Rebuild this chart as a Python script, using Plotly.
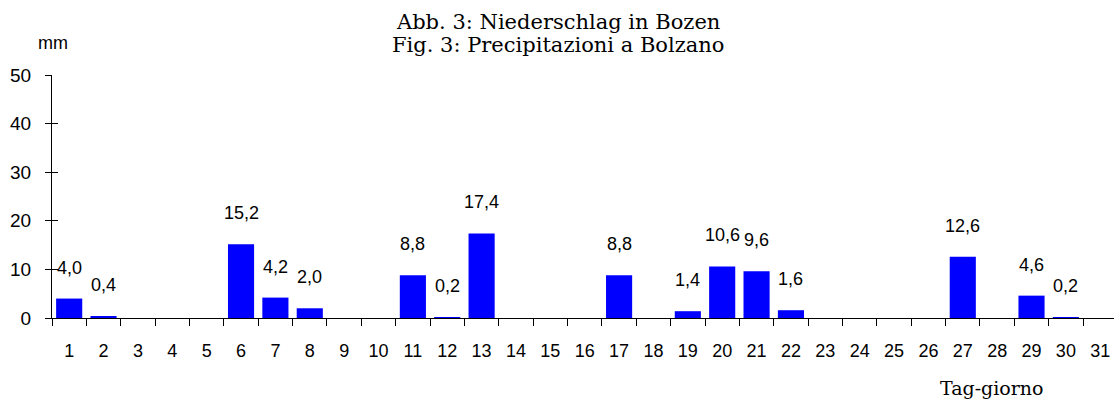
import plotly.graph_objects as go

days = [str(d) for d in range(1, 32)]
precip = [4.0, 0.4, 0, 0, 0, 15.2, 4.2, 2.0, 0, 0, 8.8, 0.2, 17.4, 0, 0, 0, 8.8, 0, 1.4, 10.6,
          9.6, 1.6, 0, 0, 0, 0, 12.6, 0, 4.6, 0.2, 0]
y_ticks = [0, 10, 20, 30, 40, 50]
title_lines = ["Abb. 3: Niederschlag in Bozen", "Fig. 3: Precipitazioni a Bolzano"]

labels = [f"{v:.1f}".replace(".", ",") for v in precip]

fig = go.Figure()
fig.add_trace(go.Bar(x=days, y=precip, marker=dict(color="#0000FF", line=dict(width=0)),
                     width=0.76, hoverinfo="x+y"))
# empty helper trace so the overlay axis (inner halves of the y ticks) is drawn
fig.add_trace(go.Scatter(x=[], y=[], yaxis="y2", showlegend=False, hoverinfo="skip"))

for i, (v, t) in enumerate(zip(precip, labels)):
    if v > 0:
        fig.add_annotation(x=i, y=v, text=t, showarrow=False, yanchor="middle", yshift=31,
                           font=dict(family="Liberation Sans, Arial", size=18, color="#000"))

serif = "DejaVu Serif"
for ty, line in zip([1.218, 1.123], title_lines):
    fig.add_annotation(xref="paper", yref="paper", x=0.4765, y=ty, text=line, showarrow=False,
                       xanchor="center", yanchor="middle",
                       font=dict(family=serif, size=21, color="#000"))

fig.add_annotation(xref="paper", yref="paper", x=0.001, y=1.132, text="mm", showarrow=False,
                   xanchor="center", yanchor="middle",
                   font=dict(family="Liberation Sans, Arial", size=18, color="#000"))
fig.add_annotation(xref="paper", yref="paper", x=0.885, y=-0.288, text="Tag-giorno", showarrow=False,
                   xanchor="center", yanchor="middle",
                   font=dict(family=serif, size=19, color="#000"))

fig.update_layout(
    width=1114, height=401,
    margin=dict(l=52, r=0, t=75, b=83),
    paper_bgcolor="white", plot_bgcolor="white",
    showlegend=False,
    xaxis=dict(type="category", tickson="boundaries", ticks="outside", ticklen=7,
               range=[-0.5, 30.4], automargin=False,
               tickcolor="#000", linecolor="#000", linewidth=1.2, showline=True,
               showgrid=False, zeroline=False, ticklabelstandoff=16,
               tickfont=dict(family="Liberation Sans, Arial", size=18, color="#000")),
    yaxis=dict(range=[0, 50], tickvals=y_ticks, ticks="outside", ticklen=6,
               automargin=False,
               tickcolor="#000", linecolor="#000", linewidth=1, showline=True,
               showgrid=False, zeroline=False, ticklabelstandoff=10,
               tickfont=dict(family="Liberation Sans, Arial", size=19, color="#000")),
    yaxis2=dict(overlaying="y", anchor="x", side="left", range=[0, 50], tickvals=y_ticks,
                ticks="inside", ticklen=6, tickcolor="#000", showticklabels=False,
                showline=False, showgrid=False, zeroline=False, automargin=False),
)

fig.write_html("out.html", post_script="document.body.style.margin='0';",
               config={"displayModeBar": False})
